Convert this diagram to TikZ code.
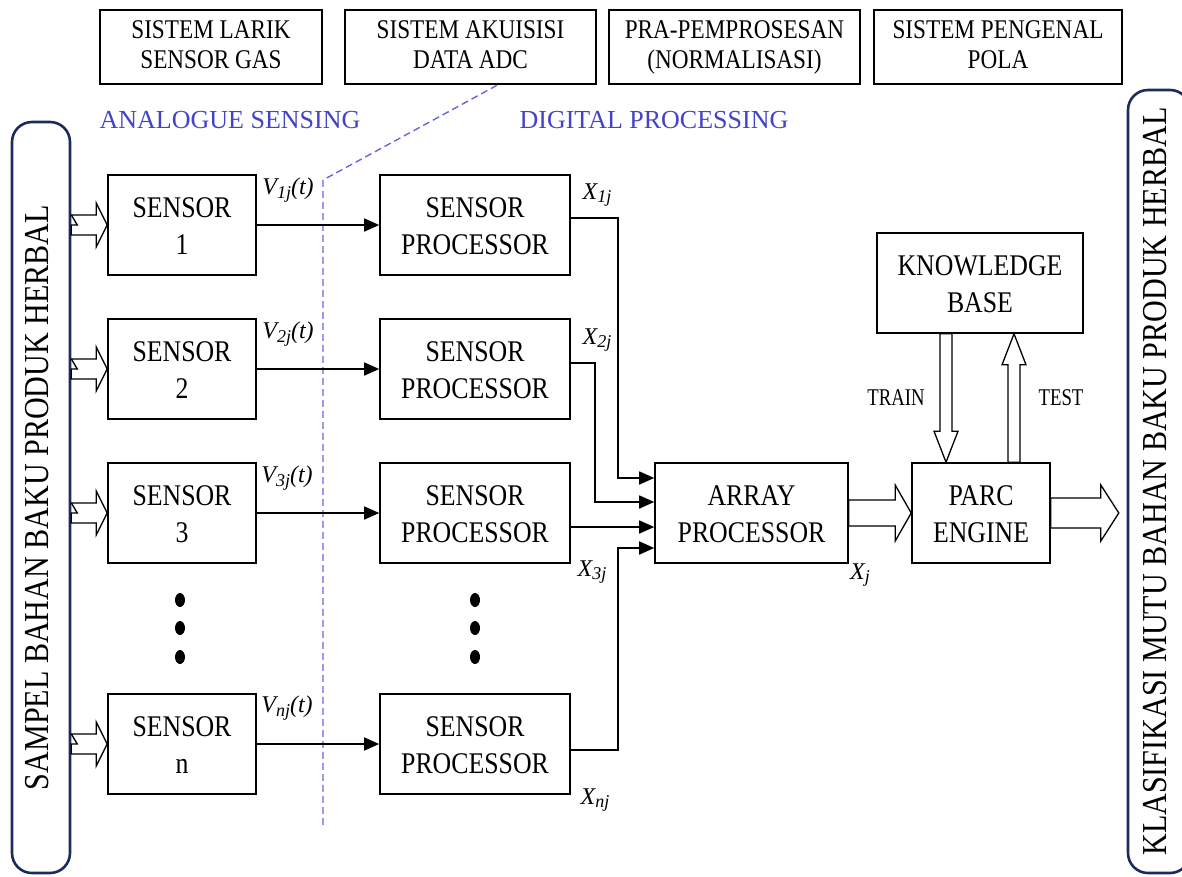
\documentclass[tikz,border=0pt]{standalone}
\usepackage{fontspec}
\setmainfont{Liberation Serif}
\usepackage{graphicx}
\usepackage{tikz}
\usetikzlibrary{positioning, arrows.meta, calc}
\definecolor{sBlue}{HTML}{4343C8}
\definecolor{sDash}{HTML}{6666E0}
\definecolor{sNavy}{HTML}{1B2B5E}

\newcommand{\nrw}[2][0.86]{\scalebox{#1}[1]{\begin{tabular}{@{}c@{}}#2\end{tabular}}}
\newcommand{\btxt}[1]{\raisebox{-4pt}[\height][\depth]{\nrw{#1}}}
\newcommand{\sig}[2]{#1\raisebox{-0.35ex}{\fontsize{18}{18}\selectfont #2}}

\begin{document}
\begin{tikzpicture}[
  x=1pt, y=-1pt,
  box/.style={draw, line width=1.6pt, align=center, inner sep=0pt,
    font=\fontsize{30}{37}\selectfont},
  topbox/.style={draw, line width=2.6pt, align=center, inner sep=0pt,
    minimum height=74pt, font=\fontsize{27}{30}\selectfont},
  side/.style={draw=sNavy, line width=2.6pt, rounded corners=20pt,
    rotate=90, inner sep=0pt, font=\fontsize{35}{35}\selectfont},
  zone/.style={text=sBlue, font=\fontsize{26}{26}\selectfont},
  sym/.style={font=\fontsize{24}{24}\selectfont\itshape, inner sep=0pt},
  tag/.style={font=\fontsize{24}{24}\selectfont, inner sep=0pt},
  wire/.style={line width=1.6pt, -{Triangle[length=15pt,width=13pt]}},
  fat/.style n args={4}{draw, line width=1.3pt, fill=white, to path={
    -- ($(\tikztostart)!#4!(\tikztotarget)$)
    -- ($(\tikztostart)!#1!90:(\tikztotarget)$)
    -- ($($(\tikztotarget)!#3!(\tikztostart)$)!#1!-90:(\tikztostart)$)
    -- ($($(\tikztotarget)!#3!(\tikztostart)$)!#2!-90:(\tikztostart)$)
    -- (\tikztotarget)
    -- ($($(\tikztotarget)!#3!(\tikztostart)$)!#2!90:(\tikztostart)$)
    -- ($($(\tikztotarget)!#3!(\tikztostart)$)!#1!90:(\tikztostart)$)
    -- ($(\tikztostart)!#1!-90:(\tikztotarget)$)
    -- cycle}},
]
  \clip (0,0) rectangle (1182,876);

  % stage headers
  \node[topbox, minimum width=222pt] (hd1) at (211,47) {\nrw{SISTEM LARIK\\SENSOR GAS}};
  \node[topbox, minimum width=251pt] (hd2) at (470.5,47) {\nrw{SISTEM AKUISISI\\DATA ADC}};
  \node[topbox, minimum width=251pt] (hd3) at (734.5,47) {\nrw{PRA-PEMPROSESAN\\(NORMALISASI)}};
  \node[topbox, minimum width=248pt] (hd4) at (998,47) {\nrw{SISTEM PENGENAL\\POLA}};

  \node[zone] (ana) at (230,120) {ANALOGUE SENSING};
  \node[zone] (dig) at (654,120) {DIGITAL PROCESSING};

  % input / output
  \node[side, minimum width=751pt, minimum height=58pt] (sampel) at (41,497.5)
    {\nrw{SAMPEL BAHAN BAKU PRODUK HERBAL}};
  \node[side, minimum width=783pt, minimum height=62pt] (klas) at (1159,481.5)
    {\nrw{KLASIFIKASI MUTU BAHAN BAKU PRODUK HERBAL}};

  % sensors
  \node[box, minimum width=148pt, minimum height=100pt] (s1) at (182,225) {\btxt{SENSOR\\1}};
  \node[box, minimum width=148pt, minimum height=100pt] (s2) at (182,369) {\btxt{SENSOR\\2}};
  \node[box, minimum width=148pt, minimum height=100pt] (s3) at (182,513) {\btxt{SENSOR\\3}};
  \node[box, minimum width=148pt, minimum height=100pt] (sn) at (182,744) {\btxt{SENSOR\\n}};

  % sensor processors
  \node[box, minimum width=190pt, minimum height=100pt] (p1) at (475,225) {\btxt{SENSOR\\PROCESSOR}};
  \node[box, minimum width=190pt, minimum height=100pt] (p2) at (475,369) {\btxt{SENSOR\\PROCESSOR}};
  \node[box, minimum width=190pt, minimum height=100pt] (p3) at (475,513) {\btxt{SENSOR\\PROCESSOR}};
  \node[box, minimum width=190pt, minimum height=100pt] (pn) at (475,744) {\btxt{SENSOR\\PROCESSOR}};

  \node[box, minimum width=193pt, minimum height=100pt] (array) at (751.5,513) {\btxt{ARRAY\\PROCESSOR}};
  \node[box, minimum width=138pt, minimum height=100pt] (parc) at (981,513) {\btxt{PARC\\ENGINE}};
  \node[box, minimum width=206pt, minimum height=100pt] (kb) at (980,283) {\btxt{KNOWLEDGE\\BASE}};

  \foreach \yy in {600,628,657} {
    \fill (180,\yy) ellipse (5pt and 7pt);
    \fill (475,\yy) ellipse (5pt and 7pt);
  }

  % analogue / digital border
  \coordinate (dbend) at (323,180);
  \coordinate (dend) at (323,825);
  \draw[sDash, line width=1.4pt, dash pattern=on 7pt off 4pt]
    ([xshift=26.5pt]hd2.south) -- (dbend) -- (dend);

  % sample into sensors
  \foreach \s in {s1,s2,s3,sn}
    \draw[fat={10pt}{22pt}{11pt}{6pt}] (sampel.south |- \s) to (\s.west);

  \foreach \s/\p in {s1/p1,s2/p2,s3/p3,sn/pn}
    \draw[wire] (\s.east) -- (\p.west);

  \draw[wire] ([yshift=7pt]p1.east) -- ++(47,0) |- ([yshift=35pt]array.west);
  \draw[wire] ([yshift=6pt]p2.east) -- ++(24,0) |- ([yshift=11pt]array.west);
  \draw[wire] ([yshift=-14pt]p3.east) -- ([yshift=-14pt]array.west);
  \draw[wire] ([yshift=-6pt]pn.east) -- ++(47,0) |- ([yshift=-35pt]array.west);

  \draw[fat={13pt}{28pt}{16pt}{0pt}] (array.east) to (parc.west);
  \draw[fat={15pt}{28pt}{18pt}{0pt}] (parc.east) to ([xshift=68pt]parc.east);
  \draw[fat={6pt}{12pt}{31pt}{0pt}] ([xshift=-34pt]kb.south) to ([xshift=-35pt]parc.north);
  \draw[fat={6pt}{12pt}{31pt}{0pt}] ([xshift=33pt]parc.north) to ([xshift=34pt]kb.south);

  % signal labels
  \node[sym] (v1) at (288,190) {\sig{V}{1j}(t)};
  \node[sym] (v2) at (288,334) {\sig{V}{2j}(t)};
  \node[sym] (v3) at (287,478) {\sig{V}{3j}(t)};
  \node[sym] (vn) at (287,708) {\sig{V}{nj}(t)};
  \node[sym] (x1) at (597,195) {\sig{X}{1j}};
  \node[sym] (x2) at (597,340) {\sig{X}{2j}};
  \node[sym] (x3) at (592,572) {\sig{X}{3j}};
  \node[sym] (xn) at (595,800) {\sig{X}{nj}};
  \node[sym] (xj) at (860,575) {\sig{X}{j}};
  \node[tag] (train) at (896,401) {\nrw[0.78]{TRAIN}};
  \node[tag] (test) at (1061,401) {\nrw[0.78]{TEST}};
\end{tikzpicture}
\end{document}
